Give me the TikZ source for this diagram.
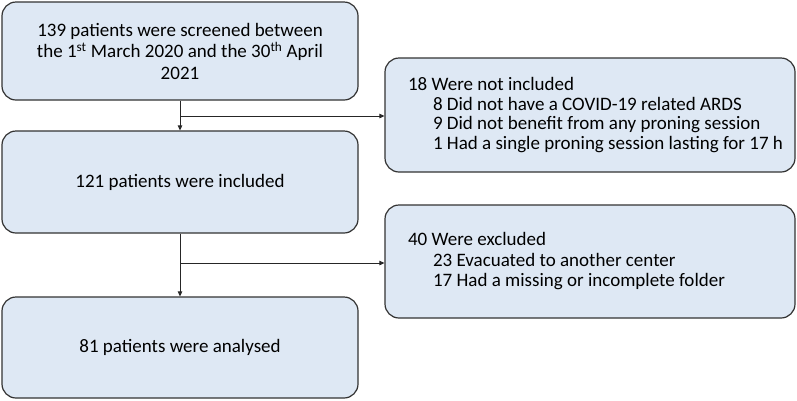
\documentclass[tikz,border=0pt]{standalone}
\usepackage{fontspec}
\setmainfont{Carlito}
\usetikzlibrary{arrows.meta}
\begin{document}
\begin{tikzpicture}[x=1pt,y=-1pt,
  box/.style={draw=black!80, line width=1.2pt, fill=boxblue, rounded corners=14pt, inner sep=0pt, font=\fontsize{19}{21.5}\selectfont},
  conn/.style={line width=1pt, draw=black!85, -{Triangle[length=5pt,width=4.5pt]}}]
\definecolor{boxblue}{HTML}{DEE8F4}
\useasboundingbox (0,0) rectangle (797,400);
\node[box, minimum width=356pt, minimum height=98pt, align=center] (screen) at (180,51)
  {139 patients were screened between\\the 1\textsuperscript{st} March 2020 and the 30\textsuperscript{th} April\\2021};
\node[box, minimum width=356pt, minimum height=102pt] (incl) at (180,182) {121 patients were included};
\node[box, minimum width=356pt, minimum height=101pt] (anal) at (180,347.5) {81 patients were analysed};
\node[box, minimum width=410pt, minimum height=114pt] (notincl) at (590,115)
  {\hspace*{16pt}\raisebox{5pt}{\parbox{380pt}{\raggedright\setlength{\baselineskip}{19.5pt}18 Were not included\\
  \hspace*{25pt}8 Did not have a COVID-19 related ARDS\\
  \hspace*{25pt}9 Did not benefit from any proning session\\
  \hspace*{25pt}1 Had a single proning session lasting for 17 h}}};
\node[box, minimum width=410pt, minimum height=113pt] (excl) at (590,261.5)
  {\hspace*{16pt}\raisebox{6pt}{\parbox{380pt}{\raggedright\setlength{\baselineskip}{20.5pt}40 Were excluded\\
  \hspace*{25pt}23 Evacuated to another center\\
  \hspace*{25pt}17 Had a missing or incomplete folder}}};
\coordinate (j1) at (180,116);
\coordinate (j2) at (180,263);
\draw[conn] (screen.south) -- (incl.north);
\draw[conn] (j1) -- (j1 -| notincl.west);
\draw[conn] (incl.south) -- (anal.north);
\draw[conn] (j2) -- (j2 -| excl.west);
\end{tikzpicture}
\end{document}
